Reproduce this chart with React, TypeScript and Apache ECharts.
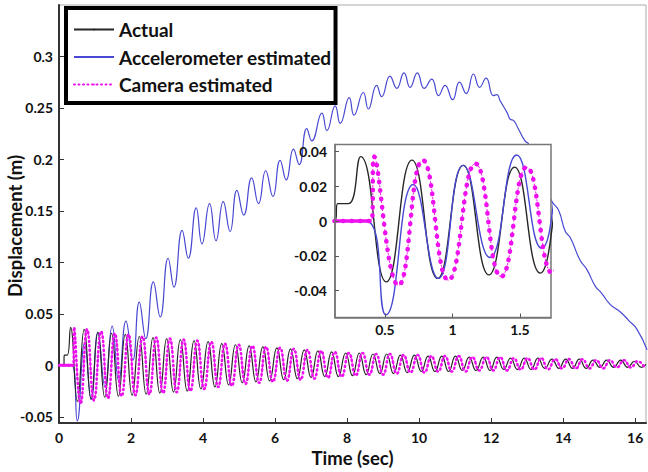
import React, { useEffect, useRef } from "react";
import * as echarts from "echarts";

// [time (s), displacement (m)] read at turning points of each trace
const actual: [number, number][] = [
  [0, 0], [0.13, 0], [0.15, 0.010], [0.23, 0.010], [0.32, 0.037], [0.51, -0.035], [0.70, 0.035], [0.89, -0.033],
  [1.08, 0.032], [1.27, -0.031], [1.46, 0.031], [1.65, -0.030], [1.84, 0.030], [2.03, -0.029], [2.23, 0.028],
  [2.42, -0.028], [2.61, 0.027], [2.80, -0.027], [2.99, 0.026], [3.18, -0.026], [3.37, 0.025], [3.56, -0.025],
  [3.75, 0.024], [3.94, -0.023], [4.14, 0.023], [4.33, -0.021], [4.52, 0.021], [4.71, -0.019], [4.90, 0.020],
  [5.09, -0.017], [5.28, 0.019], [5.47, -0.016], [5.66, 0.018], [5.85, -0.015], [6.05, 0.017], [6.24, -0.014],
  [6.43, 0.016], [6.62, -0.013], [6.81, 0.015], [7.00, -0.012], [7.19, 0.014], [7.38, -0.011], [7.57, 0.013],
  [7.76, -0.011], [7.96, 0.012], [8.15, -0.010], [8.34, 0.012], [8.53, -0.009], [8.72, 0.011], [8.91, -0.008],
  [9.10, 0.011], [9.29, -0.008], [9.48, 0.010], [9.67, -0.007], [9.87, 0.010], [10.06, -0.006], [10.25, 0.009],
  [10.44, -0.006], [10.63, 0.009], [10.82, -0.006], [11.01, 0.009], [11.20, -0.005], [11.39, 0.008], [11.58, -0.005],
  [11.78, 0.008], [11.97, -0.005], [12.16, 0.008], [12.35, -0.004], [12.54, 0.007], [12.73, -0.004], [12.92, 0.007],
  [13.11, -0.004], [13.30, 0.007], [13.49, -0.003], [13.69, 0.006], [13.88, -0.003], [14.07, 0.006], [14.26, -0.003],
  [14.45, 0.006], [14.64, -0.003], [14.83, 0.005], [15.02, -0.002], [15.21, 0.005], [15.40, -0.002], [15.60, 0.005],
  [15.79, -0.002], [15.98, 0.004], [16.17, -0.002], [16.30, 0.001],
];

const accelerometer: [number, number][] = [
  [0, 0], [0.36, 0], [0.507, -0.054], [0.71, 0.021], [0.895, -0.033], [1.08, 0.032], [1.278, -0.021], [1.476, 0.038],
  [1.66, -0.0156], [1.86, 0.043], [2.05, 0.005], [2.23, 0.0615], [2.41, 0.026], [2.62, 0.081], [2.81, 0.047],
  [3.03, 0.104], [3.19, 0.076], [3.42, 0.131], [3.59, 0.104], [3.81, 0.153], [3.97, 0.118], [4.18, 0.157],
  [4.36, 0.121], [4.56, 0.159], [4.75, 0.130], [4.94, 0.170], [5.13, 0.146], [5.35, 0.182], [5.54, 0.157],
  [5.74, 0.189], [5.94, 0.164], [6.14, 0.199], [6.31, 0.180], [6.51, 0.210], [6.67, 0.195], [6.88, 0.230],
  [7.02, 0.218], [7.30, 0.245], [7.44, 0.228], [7.67, 0.252], [7.81, 0.235], [8.06, 0.260], [8.19, 0.243],
  [8.45, 0.265], [8.59, 0.249], [8.82, 0.272], [8.96, 0.261], [9.19, 0.281], [9.38, 0.269], [9.58, 0.284],
  [9.75, 0.270], [9.95, 0.284], [10.14, 0.269], [10.35, 0.278], [10.54, 0.262], [10.72, 0.272], [10.93, 0.258],
  [11.12, 0.275], [11.31, 0.264], [11.51, 0.283], [11.68, 0.270], [11.86, 0.279], [12.06, 0.262], [12.16, 0.263],
  [12.25, 0.257], [12.45, 0.245], [12.53, 0.239], [12.62, 0.238], [12.75, 0.230], [12.94, 0.218], [13.04, 0.215],
  [13.20, 0.200], [13.40, 0.182], [13.55, 0.172], [13.69, 0.159], [13.87, 0.151], [14.06, 0.130], [14.20, 0.124],
  [14.47, 0.102], [14.66, 0.093], [14.89, 0.077], [15.07, 0.070], [15.31, 0.059], [15.58, 0.052], [15.81, 0.044],
  [16.05, 0.035], [16.33, 0.015],
];

const camera: [number, number][] = [
  [0, 0], [0.40, 0], [0.42, 0.037], [0.60, -0.037], [0.78, 0.035], [0.97, -0.034], [1.17, 0.033], [1.36, -0.032],
  [1.55, 0.031], [1.74, -0.030], [1.93, 0.030], [2.12, -0.029], [2.32, 0.028], [2.51, -0.028], [2.70, 0.027],
  [2.89, -0.027], [3.08, 0.026], [3.27, -0.026], [3.46, 0.025], [3.65, -0.025], [3.84, 0.024], [4.03, -0.023],
  [4.23, 0.023], [4.42, -0.021], [4.61, 0.021], [4.80, -0.020], [4.99, 0.020], [5.18, -0.018], [5.37, 0.019],
  [5.56, -0.017], [5.75, 0.018], [5.94, -0.016], [6.14, 0.017], [6.33, -0.015], [6.52, 0.016], [6.71, -0.014],
  [6.90, 0.015], [7.09, -0.013], [7.28, 0.014], [7.47, -0.012], [7.66, 0.013], [7.85, -0.011], [8.05, 0.012],
  [8.24, -0.010], [8.43, 0.012], [8.62, -0.009], [8.81, 0.011], [9.00, -0.009], [9.19, 0.011], [9.38, -0.008],
  [9.57, 0.010], [9.76, -0.007], [9.96, 0.010], [10.15, -0.007], [10.34, 0.009], [10.53, -0.006], [10.72, 0.009],
  [10.91, -0.006], [11.10, 0.009], [11.29, -0.006], [11.48, 0.008], [11.67, -0.005], [11.87, 0.008], [12.06, -0.005],
  [12.25, 0.008], [12.44, -0.005], [12.63, 0.007], [12.82, -0.004], [13.01, 0.007], [13.20, -0.004], [13.39, 0.007],
  [13.58, -0.004], [13.78, 0.006], [13.97, -0.003], [14.16, 0.006], [14.35, -0.003], [14.54, 0.006], [14.73, -0.003],
  [14.92, 0.005], [15.11, -0.003], [15.30, 0.005], [15.49, -0.002], [15.69, 0.005], [15.88, -0.002], [16.07, 0.004],
  [16.26, -0.002],
];

const seriesNames = ["Actual", "Accelerometer estimated", "Camera estimated"];
const mainXTicks = [0, 2, 4, 6, 8, 10, 12, 14, 16];
const mainYTicks = [-0.05, 0, 0.05, 0.1, 0.15, 0.2, 0.25, 0.3];
const insetXTicks = [0.5, 1, 1.5];
const insetYTicks = [-0.04, -0.02, 0, 0.02, 0.04];

const FONT = "Lato";
const BLACK = "#262626";
const BLUE = "#4848d2";
const MAGENTA = "#ee10ee";

export default function App() {
  const ref = useRef<HTMLDivElement>(null);
  useEffect(() => {
    const chart = echarts.init(ref.current!, null, { renderer: "svg" });
    const labelStyle = { fontFamily: FONT, fontWeight: "bold" as const, fontSize: 14, color: "#111" };
    // the camera trace rests at zero before it starts tracking (densely sampled, drawn solid)
    const cameraRest = camera.slice(0, 2);
    chart.setOption({
      animation: false,
      backgroundColor: "#fff",
      legend: {
        data: seriesNames,
        orient: "vertical",
        left: 66,
        top: 8,
        itemWidth: 40,
        itemHeight: 2,
        itemGap: 8.5,
        padding: [12, 4, 9, 7],
        borderColor: "#000",
        borderWidth: 4,
        backgroundColor: "#fff",
        z: 20,
        textStyle: { fontFamily: FONT, fontWeight: "bold", fontSize: 19, color: "#111" },
      },
      grid: [
        { left: 59, right: 2, top: 5, bottom: 49, show: true, borderColor: "#aaa", borderWidth: 1, containLabel: false, outerBoundsMode: "none" },
        { left: 335, top: 144.5, width: 216, height: 173, show: true, backgroundColor: "#fff", borderColor: "#777", borderWidth: 1.5, z: 10, containLabel: false, outerBoundsMode: "none" },
      ],
      xAxis: [
        {
          type: "value", gridIndex: 0, min: 0, max: 16.3,
          name: "Time (sec)", nameLocation: "middle", nameGap: 24,
          nameTextStyle: { fontFamily: FONT, fontWeight: "bold", fontSize: 18.5, color: "#111" },
          axisLine: { show: true, onZero: false, lineStyle: { color: "#333", width: 2 } },
          axisTick: { show: true, inside: true, length: 5, customValues: mainXTicks, lineStyle: { color: "#333" } },
          axisLabel: { ...labelStyle, margin: 7, customValues: mainXTicks },
          splitLine: { show: false },
        },
        {
          type: "value", gridIndex: 1, min: 0.13, max: 1.73, z: 12,
          axisLine: { show: true, onZero: false, lineStyle: { color: "#777", width: 1.5 } },
          axisTick: { show: true, inside: true, length: 4, customValues: insetXTicks, lineStyle: { color: "#555" } },
          axisLabel: { ...labelStyle, margin: 5, customValues: insetXTicks },
          splitLine: { show: false },
        },
      ],
      yAxis: [
        {
          type: "value", gridIndex: 0, min: -0.056, max: 0.35,
          name: "Displacement (m)", nameLocation: "middle", nameGap: 35, nameMoveOverlap: false,
          nameTextStyle: { fontFamily: FONT, fontWeight: "bold", fontSize: 18.5, color: "#111", padding: [0, 24, 0, 0] },
          axisLine: { show: true, onZero: false, lineStyle: { color: "#333", width: 2 } },
          axisTick: { show: true, inside: true, length: 5, customValues: mainYTicks, lineStyle: { color: "#333" } },
          axisLabel: { ...labelStyle, margin: 6, customValues: mainYTicks },
          splitLine: { show: false },
        },
        {
          type: "value", gridIndex: 1, min: -0.0555, max: 0.044, z: 12,
          axisLine: { show: true, onZero: false, lineStyle: { color: "#777", width: 1.5 } },
          axisTick: { show: true, inside: true, length: 4, customValues: insetYTicks, lineStyle: { color: "#555" } },
          axisLabel: { ...labelStyle, margin: 8, customValues: insetYTicks },
          splitLine: { show: false },
        },
      ],
      series: [
        {
          name: "Actual", type: "line", xAxisIndex: 0, yAxisIndex: 0, data: actual, smooth: 0.5,
          symbol: "none", z: 3, color: BLACK, lineStyle: { color: BLACK, width: 1.2 },
        },
        {
          name: "Accelerometer estimated", type: "line", xAxisIndex: 0, yAxisIndex: 0, data: accelerometer, smooth: 0.5,
          symbol: "none", z: 2, color: BLUE, lineStyle: { color: BLUE, width: 1.2 },
        },
        {
          name: "Camera estimated", type: "line", xAxisIndex: 0, yAxisIndex: 0, data: camera, smooth: 0.5,
          symbol: "none", z: 4, color: MAGENTA, lineStyle: { color: MAGENTA, width: 2.6, type: [1, 3.5], cap: "round" },
        },
        {
          name: "camera-thin", type: "line", xAxisIndex: 0, yAxisIndex: 0, data: camera, smooth: 0.5,
          symbol: "none", z: 4, color: MAGENTA, lineStyle: { color: MAGENTA, width: 1, type: [2, 2] },
        },
        {
          name: "camera-rest", type: "line", xAxisIndex: 0, yAxisIndex: 0, data: cameraRest,
          symbol: "none", z: 5, color: MAGENTA, lineStyle: { color: MAGENTA, width: 3 },
        },
        {
          name: "Actual", type: "line", xAxisIndex: 1, yAxisIndex: 1, data: actual, smooth: 0.5,
          symbol: "none", z: 11, color: BLACK, lineStyle: { color: BLACK, width: 1.4 },
        },
        {
          name: "Accelerometer estimated", type: "line", xAxisIndex: 1, yAxisIndex: 1, data: accelerometer, smooth: 0.5,
          symbol: "none", z: 11, color: BLUE, lineStyle: { color: BLUE, width: 1.4 },
        },
        {
          name: "camera-thin", type: "line", xAxisIndex: 1, yAxisIndex: 1, data: camera, smooth: 0.5,
          symbol: "none", z: 11, color: MAGENTA, lineStyle: { color: MAGENTA, width: 1, type: [2, 2] },
        },
        {
          name: "Camera estimated", type: "line", xAxisIndex: 1, yAxisIndex: 1, data: camera, smooth: 0.5,
          symbol: "none", z: 11, color: MAGENTA, lineStyle: { color: MAGENTA, width: 4.5, type: [0.5, 8], cap: "round" },
        },
        {
          name: "camera-rest", type: "line", xAxisIndex: 1, yAxisIndex: 1, data: cameraRest,
          symbol: "none", z: 11, color: MAGENTA, lineStyle: { color: MAGENTA, width: 3.5 },
        },
      ],
    });
    return () => chart.dispose();
  }, []);
  return <div ref={ref} style={{ position: "absolute", left: 0, top: 0, width: 648, height: 472 }} />;
}
